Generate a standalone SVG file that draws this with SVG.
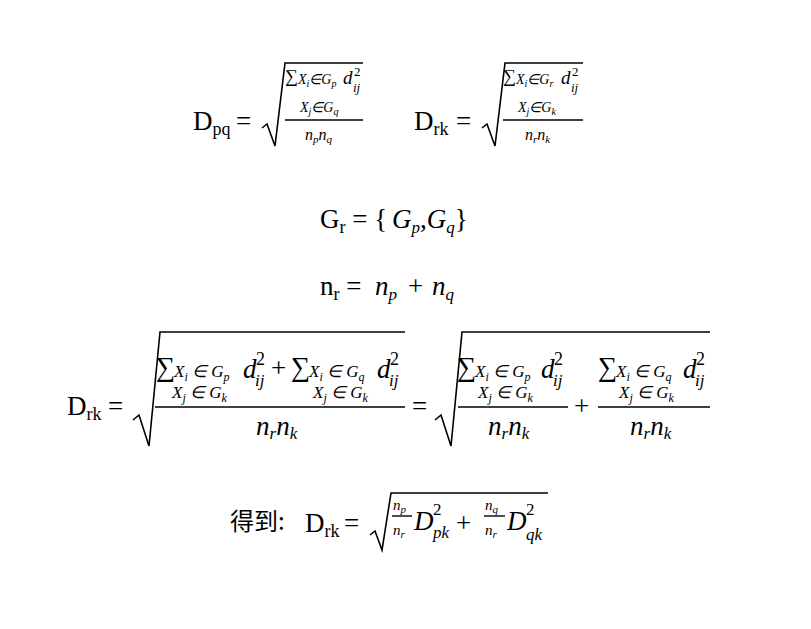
<svg xmlns="http://www.w3.org/2000/svg" width="811" height="629" viewBox="0 0 811 629">
<style>
text{font-family:"Liberation Serif",serif;fill:#000}
.r{font-size:27px}
.i{font-size:27px;font-style:italic}
.s{font-size:17px;font-style:italic}
.su{font-size:18px}
.m{font-size:22px;font-style:italic}
.sm{font-size:14px;font-style:italic}
.sg{font-size:24px}
.ln{fill:none;stroke:#000;stroke-width:1.4}
.rad{fill:none;stroke:#000;stroke-width:1.6}
</style>
<rect width="811" height="629" fill="#fff"/>
<!-- Formula 1 -->
<g id="f1">
<text x="193" y="130" class="r">D<tspan class="su" dy="5">pq</tspan></text>
<text x="236" y="130" class="r">=</text>
<path class="rad" d="M262,128 L267,124 L275,146 L285,63 L363,63"/>
<text x="285" y="82" class="sg" style="font-size:18px">∑</text>
<text x="298" y="84" class="sm">X<tspan dy="3" font-size="10">i</tspan><tspan dy="-3">∈G</tspan><tspan dy="3" font-size="10">p</tspan></text>
<text x="343" y="84" class="m" style="font-size:19px">d</text>
<text x="354" y="76" style="font-size:13px">2</text>
<text x="353" y="92" class="sm" style="font-size:13px">ij</text>
<text x="300" y="112" class="sm">X<tspan dy="3" font-size="10">j</tspan><tspan dy="-3">∈G</tspan><tspan dy="3" font-size="10">q</tspan></text>
<line class="ln" x1="285" y1="120" x2="363" y2="120"/>
<text x="305" y="140" class="sm" style="font-size:16px">n<tspan dy="3" font-size="11">p</tspan><tspan dy="-3">n</tspan><tspan dy="3" font-size="11">q</tspan></text>
</g>
<g id="f2">
<text x="414" y="130" class="r">D<tspan class="su" dy="5">rk</tspan></text>
<text x="456" y="130" class="r">=</text>
<path class="rad" d="M482,128 L487,124 L495,146 L505,63 L583,63"/>
<text x="503" y="82" style="font-size:18px">∑</text>
<text x="516" y="84" class="sm">X<tspan dy="3" font-size="10">i</tspan><tspan dy="-3">∈G</tspan><tspan dy="3" font-size="10">r</tspan></text>
<text x="561" y="84" class="m" style="font-size:19px">d</text>
<text x="572" y="76" style="font-size:13px">2</text>
<text x="571" y="92" class="sm" style="font-size:13px">ij</text>
<text x="518" y="112" class="sm">X<tspan dy="3" font-size="10">j</tspan><tspan dy="-3">∈G</tspan><tspan dy="3" font-size="10">k</tspan></text>
<line class="ln" x1="503" y1="120" x2="583" y2="120"/>
<text x="525" y="140" class="sm" style="font-size:16px">n<tspan dy="3" font-size="11">r</tspan><tspan dy="-3">n</tspan><tspan dy="3" font-size="11">k</tspan></text>
</g>
<g id="f3">
<text x="320" y="228" class="r">G<tspan class="su" dy="5">r</tspan><tspan dy="-5"> = {</tspan></text>
<text x="392" y="228" class="i">G<tspan class="s" dy="5">p</tspan><tspan dy="-5" font-style="normal">,</tspan>G<tspan class="s" dy="5">q</tspan><tspan dy="-5" font-style="normal">}</tspan></text>
</g>
<g id="f4">
<text x="320" y="295" class="r">n<tspan class="su" dy="5">r</tspan><tspan dy="-5"> = </tspan></text>
<text x="375" y="295" class="i">n<tspan class="s" dy="5">p</tspan></text>
<text x="408" y="295" class="r">+</text>
<text x="432" y="295" class="i">n<tspan class="s" dy="5">q</tspan></text>
</g>
<!-- Big formula -->
<g id="f5">
<text x="67" y="415" class="r">D<tspan class="su" dy="5">rk</tspan></text>
<text x="108" y="415" class="r">=</text>
<path class="rad" d="M133,420 L139,415 L149,446 L160,332 L405,332"/>
<text x="156" y="376" style="font-size:27px">∑</text>
<text x="174" y="377" class="s">X<tspan dy="4" font-size="12">i</tspan><tspan dy="-4"> ∈ G</tspan><tspan dy="4" font-size="12">p</tspan></text>
<text x="243" y="378" class="i">d</text>
<text x="256" y="365" style="font-size:18px">2</text>
<text x="255" y="386" class="s">ij</text>
<text x="271" y="377" class="r">+</text>
<text x="291" y="376" style="font-size:27px">∑</text>
<text x="309" y="377" class="s">X<tspan dy="4" font-size="12">i</tspan><tspan dy="-4"> ∈ G</tspan><tspan dy="4" font-size="12">q</tspan></text>
<text x="377" y="378" class="i">d</text>
<text x="390" y="365" style="font-size:18px">2</text>
<text x="389" y="386" class="s">ij</text>
<text x="172" y="398" class="s">X<tspan dy="4" font-size="12">j</tspan><tspan dy="-4"> ∈ G</tspan><tspan dy="4" font-size="12">k</tspan></text>
<text x="313" y="398" class="s">X<tspan dy="4" font-size="12">j</tspan><tspan dy="-4"> ∈ G</tspan><tspan dy="4" font-size="12">k</tspan></text>
<line class="ln" x1="155" y1="407" x2="405" y2="407"/>
<text x="256" y="435" class="i">n<tspan class="s" dy="4">r</tspan><tspan dy="-4">n</tspan><tspan class="s" dy="4">k</tspan></text>
<text x="412" y="415" class="r">=</text>
<path class="rad" d="M435,420 L441,415 L451,446 L462,332 L710,332"/>
<text x="457" y="376" style="font-size:27px">∑</text>
<text x="475" y="377" class="s">X<tspan dy="4" font-size="12">i</tspan><tspan dy="-4"> ∈ G</tspan><tspan dy="4" font-size="12">p</tspan></text>
<text x="541" y="378" class="i">d</text>
<text x="554" y="365" style="font-size:18px">2</text>
<text x="553" y="386" class="s">ij</text>
<text x="478" y="398" class="s">X<tspan dy="4" font-size="12">j</tspan><tspan dy="-4"> ∈ G</tspan><tspan dy="4" font-size="12">k</tspan></text>
<line class="ln" x1="458" y1="407" x2="568" y2="407"/>
<text x="488" y="435" class="i">n<tspan class="s" dy="4">r</tspan><tspan dy="-4">n</tspan><tspan class="s" dy="4">k</tspan></text>
<text x="574" y="415" class="r">+</text>
<text x="598" y="376" style="font-size:27px">∑</text>
<text x="616" y="377" class="s">X<tspan dy="4" font-size="12">i</tspan><tspan dy="-4"> ∈ G</tspan><tspan dy="4" font-size="12">q</tspan></text>
<text x="683" y="378" class="i">d</text>
<text x="696" y="365" style="font-size:18px">2</text>
<text x="695" y="386" class="s">ij</text>
<text x="619" y="398" class="s">X<tspan dy="4" font-size="12">j</tspan><tspan dy="-4"> ∈ G</tspan><tspan dy="4" font-size="12">k</tspan></text>
<line class="ln" x1="598" y1="407" x2="710" y2="407"/>
<text x="630" y="435" class="i">n<tspan class="s" dy="4">r</tspan><tspan dy="-4">n</tspan><tspan class="s" dy="4">k</tspan></text>
</g>
<g id="f6">
<text x="230" y="530" style="font-size:24px;font-family:'Noto Sans CJK SC',sans-serif">得到:</text>
<text x="305" y="532" class="r">D<tspan class="su" dy="5">rk</tspan></text>
<text x="344" y="532" class="r">=</text>
<path class="rad" d="M370,535 L375,531 L382,550 L391,493 L548,493"/>
<text x="393" y="510" class="sm" style="font-size:15px">n<tspan dy="3" font-size="11">p</tspan></text>
<line class="ln" x1="392" y1="516" x2="412" y2="516"/>
<text x="393" y="535" class="sm" style="font-size:15px">n<tspan dy="3" font-size="11">r</tspan></text>
<text x="414" y="530" class="i">D</text>
<text x="433" y="515" style="font-size:17px">2</text>
<text x="433" y="538" class="s">pk</text>
<text x="456" y="532" class="r">+</text>
<text x="485" y="510" class="sm" style="font-size:15px">n<tspan dy="3" font-size="11">q</tspan></text>
<line class="ln" x1="484" y1="516" x2="505" y2="516"/>
<text x="485" y="535" class="sm" style="font-size:15px">n<tspan dy="3" font-size="11">r</tspan></text>
<text x="507" y="530" class="i">D</text>
<text x="526" y="515" style="font-size:17px">2</text>
<text x="526" y="540" class="s">qk</text>
</g>
</svg>
